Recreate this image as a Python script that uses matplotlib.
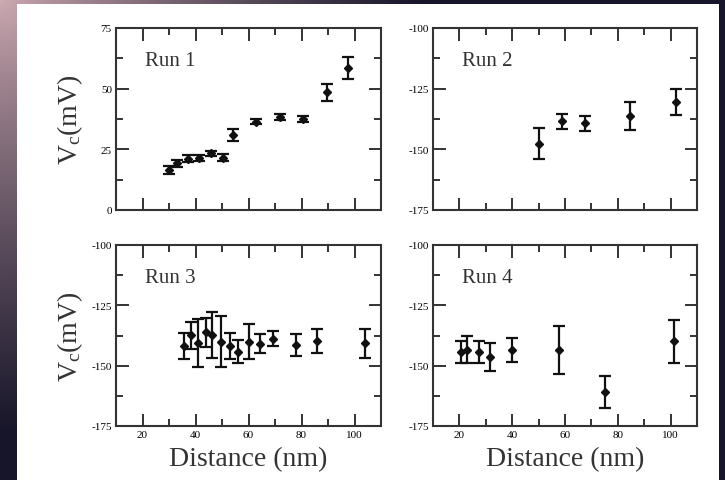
import numpy as np
import matplotlib
matplotlib.use("Agg")
import matplotlib.pyplot as plt
from matplotlib.patches import Rectangle
from matplotlib.ticker import MultipleLocator

plt.rcParams['font.family'] = ['Liberation Serif', 'DejaVu Serif']
plt.rcParams['mathtext.fontset'] = 'custom'
plt.rcParams['mathtext.rm'] = 'Liberation Serif'
plt.rcParams['mathtext.it'] = 'Liberation Serif:italic'
plt.rcParams['axes.unicode_minus'] = False

# Run 1
run1_x = [30, 33, 37, 41.2, 45.9, 50.3, 54.1, 63, 71.8, 80.7, 89.5, 97.7]
run1_y = [16.5, 19.2, 21.2, 21.5, 23.4, 21.5, 30.9, 36.4, 38.3, 37.5, 48.5, 58.5]
run1_err = [1.7, 1.3, 1.5, 1.2, 1.1, 1.4, 2.3, 1.0, 1.4, 1.4, 3.4, 4.4]

# Run 2
run2_x = [50.3, 58.9, 67.7, 84.8, 101.9]
run2_y = [-147.6, -138.5, -139.3, -136.4, -130.6]
run2_err = [6.2, 3.2, 3.2, 5.7, 5.4]

# Run 3
run3_x = [35.8, 38.4, 41.1, 43.8, 46.3, 49.7, 53.1, 56.0, 60.1, 64.5, 69.1, 77.8, 85.7, 103.8]
run3_y = [-141.9, -137.4, -140.7, -136.1, -137.4, -140.0, -141.9, -144.3, -140.0, -140.9,
          -138.8, -141.4, -139.8, -140.7]
run3_err = [5.3, 5.5, 10.0, 6.0, 9.6, 10.7, 5.3, 4.8, 7.3, 4.0, 3.1, 4.5, 5.1, 6.0]

# Run 4
run4_x = [20.5, 22.8, 27.6, 31.7, 39.9, 57.7, 75.3, 101.3]
run4_y = [-144.2, -143.5, -144.2, -146.4, -143.5, -143.5, -160.8, -139.8]
run4_err = [4.5, 5.6, 4.5, 5.9, 5.0, 9.8, 6.7, 8.9]

run_labels = ['Run 1', 'Run 2', 'Run 3', 'Run 4']
x_ticks = [20, 40, 60, 80, 100]

W, H = 725, 481
fig = plt.figure(figsize=(W / 100, H / 100), dpi=100)
fig.patch.set_facecolor('#16162a')

# background gradient (pinkish top-left corner fading to dark navy)
bg = fig.add_axes([0, 0, 1, 1])
gx, gy = np.meshgrid(np.arange(W), np.arange(H))
t = np.clip(np.sqrt((gx / 420.0) ** 2 + (gy / 430.0) ** 2), 0, 1) ** 0.8
pink = np.array([208, 172, 180]) / 255.0
dark = np.array([24, 22, 42]) / 255.0
img = pink[None, None, :] * (1 - t[..., None]) + dark[None, None, :] * t[..., None]
bg.imshow(img, aspect='auto', extent=[0, 1, 0, 1], origin='upper')
bg.axis('off')
fig.patches.append(Rectangle((17 / W, 0), (719 - 17) / W, (H - 5) / H,
                             transform=fig.transFigure, facecolor='white',
                             edgecolor='none', zorder=0.5))

lefts = [116 / W, 433 / W]
widths = [265 / W, 264 / W]
bottoms = [1 - 211 / H, 1 - 427 / H]
heights = [182 / H, 181 / H]

data = [(run1_x, run1_y, run1_err), (run2_x, run2_y, run2_err),
        (run3_x, run3_y, run3_err), (run4_x, run4_y, run4_err)]

for i, (xs, ys, es) in enumerate(data):
    row, col = divmod(i, 2)
    ax = fig.add_axes([lefts[col], bottoms[row], widths[col], heights[row]])
    ax.set_zorder(2)
    ax.errorbar(xs, ys, yerr=es, fmt='D', color='#111111', markersize=3.6,
                elinewidth=1.6, capsize=4.5, capthick=1.6)
    ax.set_xlim(10, 110)
    if i == 0:
        ax.set_ylim(0, 75)
        ax.set_yticks([0, 25, 50, 75])
    else:
        ax.set_ylim(-175, -100)
        ax.set_yticks([-175, -150, -125, -100])
    ax.set_xticks(x_ticks)
    ax.xaxis.set_minor_locator(MultipleLocator(10))
    ax.yaxis.set_minor_locator(MultipleLocator(12.5))
    ax.tick_params(which='both', direction='in', top=True, right=True,
                   width=1.4, color='#333333')
    ax.tick_params(which='major', length=9, labelsize=8, pad=3)
    ax.tick_params(which='minor', length=5)
    for s in ax.spines.values():
        s.set_linewidth(1.5)
        s.set_color('#333333')
    if row == 0:
        ax.set_xticklabels([])
    ax.text(0.11, 0.82, run_labels[i], transform=ax.transAxes, fontsize=15,
            color='#333333', ha='left', va='center')

# axis labels
for row in range(2):
    yc = bottoms[row] + heights[row] / 2
    fig.text(70 / W, yc, r'V$_\mathrm{c}$(mV)', rotation=90, ha='center',
             va='center', fontsize=20, color='#333333')
for col in range(2):
    xc = lefts[col] + widths[col] / 2
    fig.text(xc, 1 - 460 / H, 'Distance (nm)', ha='center', va='center',
             fontsize=20, color='#333333')

fig.savefig('out.png', dpi=100)
